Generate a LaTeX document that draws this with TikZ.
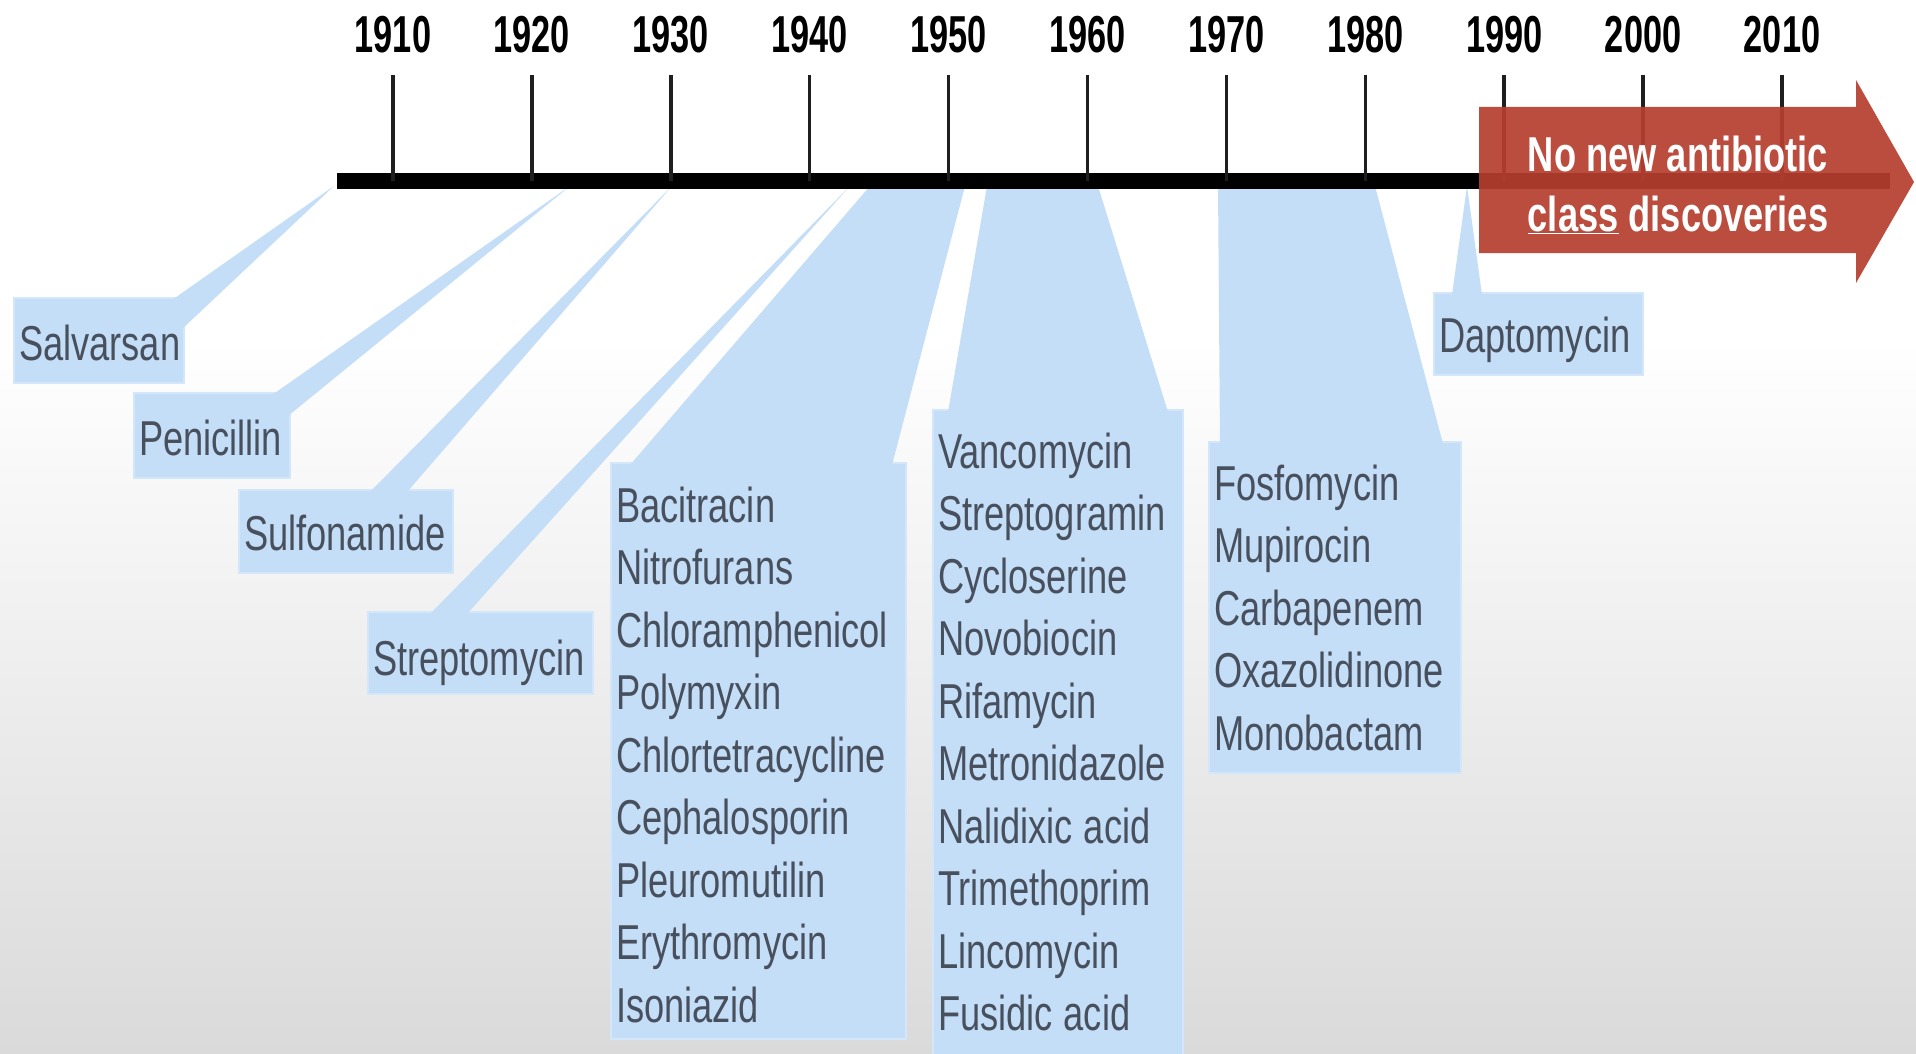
\documentclass[tikz,border=0pt]{standalone}
\usepackage{fontspec}
\setmainfont{Liberation Sans}[FakeStretch=0.74]
\newfontfamily\yearfont{Liberation Sans}[FakeStretch=0.66]
\usepackage{tikz}
\usepackage{xcolor}
\usetikzlibrary{calc}

\definecolor{calloutblue}{RGB}{196,222,247}
\definecolor{calloutedge}{RGB}{212,230,250}
\definecolor{drugtext}{RGB}{72,80,94}
\definecolor{arrowred}{RGB}{182,62,47}
\definecolor{bggray}{RGB}{218,218,218}
\newcommand{\drugfont}{\fontsize{49}{62.5}\selectfont\hyphenpenalty 10000\relax}
\newcommand{\gap}{\hspace{11pt}}

\begin{document}
\begin{tikzpicture}[
    x=1pt, y=-1pt,
    drug/.style={anchor=base west, fill=calloutblue, draw=calloutedge, line width=2pt, text=drugtext,
        inner xsep=5pt, inner ysep=0pt, align=left, font=\drugfont},
    wedge/.style={fill=calloutblue},
    year/.style={anchor=base, font=\yearfont\bfseries\fontsize{52}{60}\selectfont},
    tick/.style={line width=3.5pt, black!88}
]
    \useasboundingbox (0,0) rectangle (1916,1054);
    \fill[white] (0,0) rectangle (1916,1054);
    \shade[top color=white, bottom color=bggray] (0,340) rectangle (1916,1054);

    % Labels
    \node[drug, text width=160pt, text height=62pt, text depth=23pt] (salv) at (13,360) {Salvarsan};
    \node[drug, text width=146pt, text height=62pt, text depth=23pt] (peni) at (133,455) {Penicillin};
    \node[drug, text width=204pt, text height=60pt, text depth=23pt] (sulf) at (238,550) {Sulfonamide};
    \node[drug, text width=215pt, text height=63pt, text depth=19pt] (strep) at (367,675) {Streptomycin};
    \node[drug, text width=285pt, text height=59pt, text depth=517pt] (baci) at (610,522)
        {Bacitracin\\Nitrofurans\\Chloramphenicol\\Polymyxin\\Chlortetracycline\\Cephalosporin\\Pleuromutilin\\Erythromycin\\Isoniazid};
    \node[drug, text width=240pt, text height=58pt, text depth=620pt] (vanc) at (932,468)
        {Vancomycin\\Streptogramin\\Cycloserine\\Novobiocin\\Rifamycin\\Metronidazole\\Nalidixic\gap acid\\Trimethoprim\\Lincomycin\\Fusidic\gap acid};
    \node[drug, text width=242pt, text height=58pt, text depth=273pt] (fosf) at (1208,500)
        {Fosfomycin\\Mupirocin\\Carbapenem\\Oxazolidinone\\Monobactam};
    \node[drug, text width=199pt, text height=59pt, text depth=23pt] (dapt) at (1433,352) {Daptomycin};

    % Points on the timeline
    \coordinate (tSalv) at (334,186);
    \coordinate (tPeni) at (570,186);
    \coordinate (tSulf) at (672,186);
    \coordinate (tStrep) at (850,186);
    \coordinate (tBaciA) at (870,186);
    \coordinate (tBaciB) at (965,186);
    \coordinate (tVancA) at (987,186);
    \coordinate (tVancB) at (1098,186);
    \coordinate (tFosfA) at (1218,186);
    \coordinate (tFosfB) at (1375,186);
    \coordinate (tDapt) at (1467,186);

    % Callout wedges
    \fill[wedge] (tSalv) -- ($(salv.north east)+(-13,3)$) -- ($(salv.north east)+(-3,3)$) -- ($(salv.north east)+(-3,32)$) -- cycle;
    \fill[wedge] (tPeni) -- ($(peni.north east)+(-19,3)$) -- ($(peni.north east)+(-3,3)$) -- ($(peni.north east)+(-3,24)$) -- cycle;
    \fill[wedge] (tSulf) -- ($(sulf.north west)+(132,3)$) -- ($(sulf.north west)+(169,3)$) -- cycle;
    \fill[wedge] (tStrep) -- ($(strep.north west)+(63,3)$) -- ($(strep.north west)+(100,3)$) -- cycle;
    \fill[wedge] (tBaciA) -- (tBaciB) -- ($(baci.north west)+(282,3)$) -- ($(baci.north west)+(20,3)$) -- cycle;
    \fill[wedge] (tVancA) -- (tVancB) -- ($(vanc.north west)+(236,3)$) -- ($(vanc.north west)+(16,3)$) -- cycle;
    \fill[wedge] (tFosfA) -- (tFosfB) -- ($(fosf.north west)+(235,3)$) -- ($(fosf.north west)+(12,3)$) -- cycle;
    \fill[wedge] (tDapt) -- ($(dapt.north west)+(49,3)$) -- ($(dapt.north west)+(19,3)$) -- cycle;

    % Timeline
    \draw[line width=16pt] (337,181) -- (1890,181);
    \foreach \yr [count=\i from 0] in {1910,1920,...,2010} {
        \pgfmathsetmacro{\xx}{393+138.9*\i}
        \draw[tick] (\xx,75) -- (\xx,181);
        \node[year] (y\yr) at (\xx,53) {\yr};
    }

    % No new classes
    \fill[arrowred, fill opacity=0.92] (1479,107) -- (1856,107) -- (1856,80) -- (1914,182)
        -- (1856,283) -- (1856,253) -- (1479,253) -- cycle;
    \node[text=white, align=center, font=\bfseries\fontsize{49}{60}\selectfont] (nonew) at (1678,185)
        {No new antibiotic\\\underline{class} discoveries};
\end{tikzpicture}
\end{document}
